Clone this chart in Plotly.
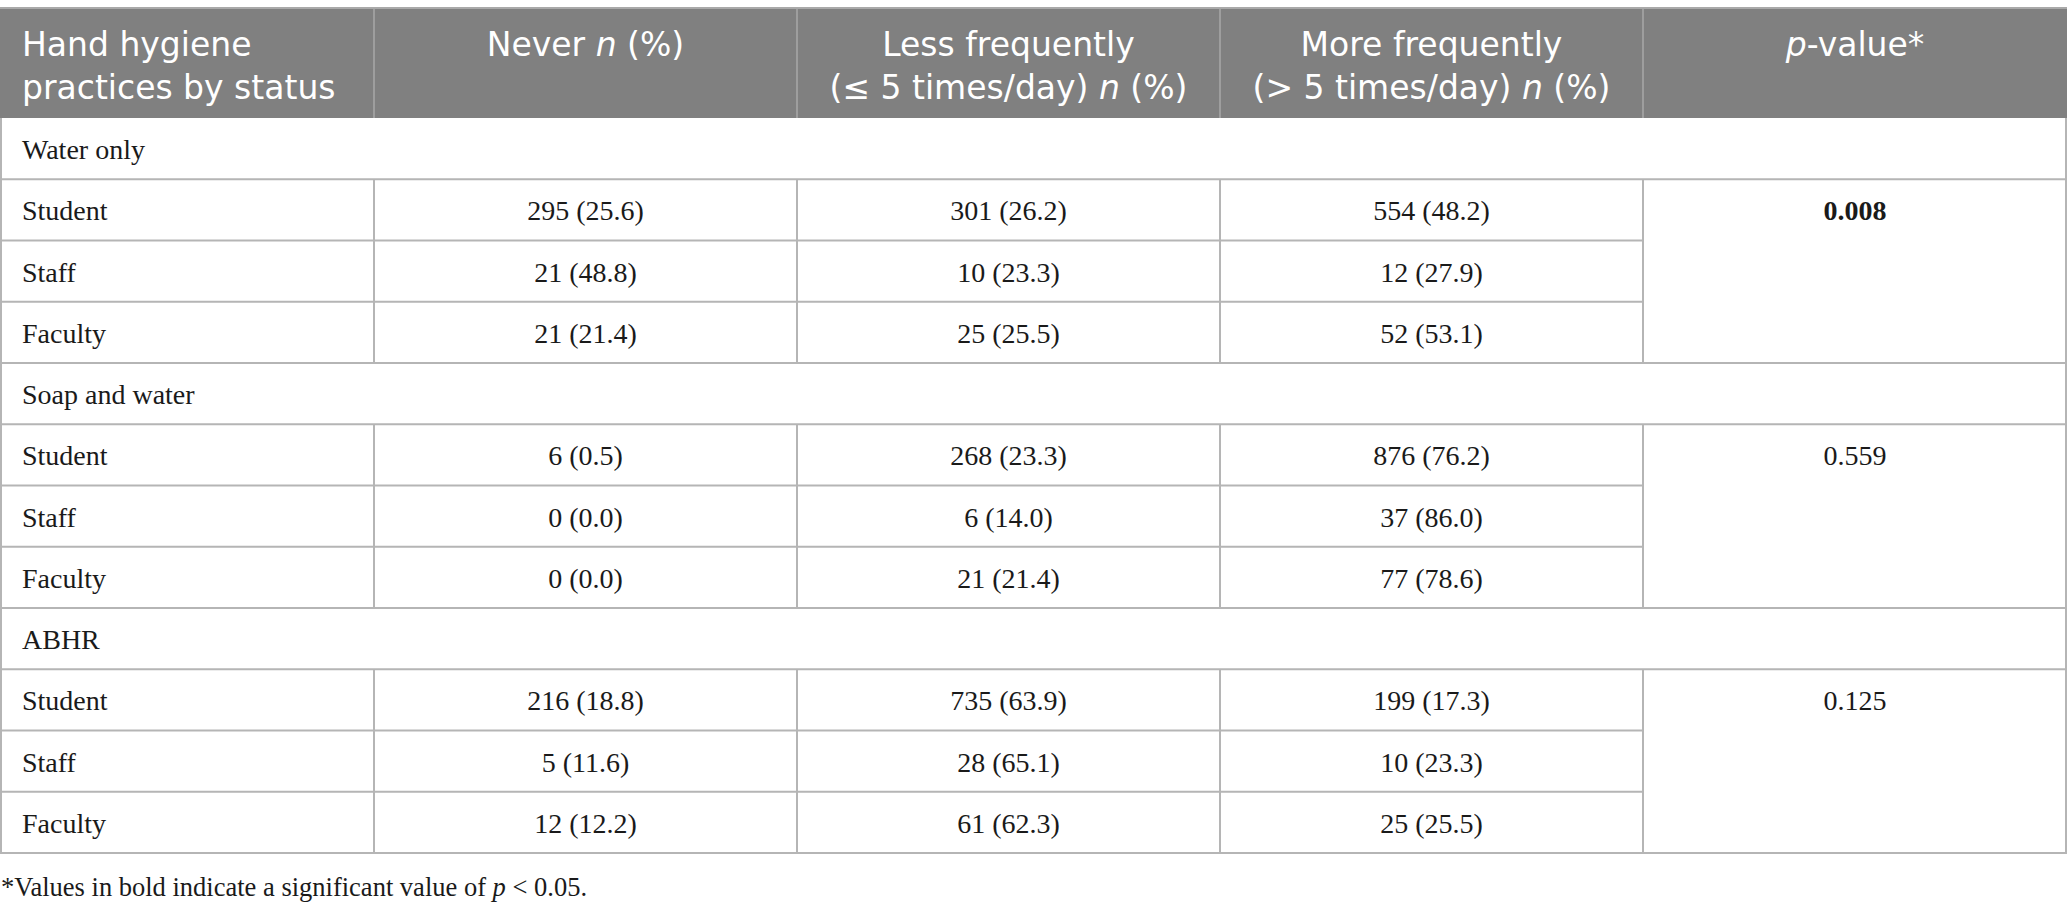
import plotly.graph_objects as go

# ---------------- data ----------------
header_lines = [
    ["Hand hygiene", "practices by status"],
    ["Never <i>n</i> (%)"],
    ["Less frequently", "(≤ 5 times/day) <i>n</i> (%)"],
    ["More frequently", "(> 5 times/day) <i>n</i> (%)"],
    ["<i>p</i>-value*"],
]
categories = ["Water only", "Soap and water", "ABHR"]
statuses = ["Student", "Staff", "Faculty"]

never_n = [[295, 21, 21], [6, 0, 0], [216, 5, 12]]
never_pct = [[25.6, 48.8, 21.4], [0.5, 0.0, 0.0], [18.8, 11.6, 12.2]]
less_n = [[301, 10, 25], [268, 6, 21], [735, 28, 61]]
less_pct = [[26.2, 23.3, 25.5], [23.3, 14.0, 21.4], [63.9, 65.1, 62.3]]
more_n = [[554, 12, 52], [876, 37, 77], [199, 10, 25]]
more_pct = [[48.2, 27.9, 53.1], [76.2, 86.0, 78.6], [17.3, 23.3, 25.5]]
p_values = [0.008, 0.559, 0.125]
alpha = 0.05
footnote = "*Values in bold indicate a significant value of <i>p</i> < 0.05."

# ---------------- layout constants ----------------
W, H = 2067, 914
col_edges = [0, 374, 797, 1220, 1643, 2067]
head_top, head_bot = 8, 118
row_h = (853 - head_bot) / 12.0
pad = 22
head_first_line_y = 48
head_font = 33
line_gap = head_font * 1.3

HEAD_BG = "#808080"
HEAD_LINE = "#a9a9a9"
GRID = "#b5b5b5"
SANS = "DejaVu Sans"
SERIF = "Liberation Serif"

fig = go.Figure()
shapes = []

# header background
shapes.append(dict(type="rect", x0=col_edges[0], x1=col_edges[-1], y0=head_top, y1=head_bot,
                   fillcolor=HEAD_BG, line=dict(width=0), layer="below"))
shapes.append(dict(type="line", x0=col_edges[0], x1=col_edges[-1], y0=head_top, y1=head_top,
                   line=dict(color=HEAD_LINE, width=2)))
for xe in col_edges[1:-1]:
    shapes.append(dict(type="line", x0=xe, x1=xe, y0=head_top, y1=head_bot,
                       line=dict(color=HEAD_LINE, width=1.5)))

# header text (one text block per column)
hx, hy, ht, hp = [], [], [], []
for ci, lines in enumerate(header_lines):
    n = len(lines)
    if ci == 0:
        hx.append(col_edges[0] + pad); hp.append("middle right")
    else:
        hx.append((col_edges[ci] + col_edges[ci + 1]) / 2); hp.append("middle center")
    hy.append(head_first_line_y + (n - 1) * line_gap / 2)
    ht.append("<br>".join(lines))
fig.add_trace(go.Scatter(x=hx, y=hy, text=ht, mode="text", textposition=hp,
                         textfont=dict(family=SANS, size=head_font, color="white"),
                         hoverinfo="skip", showlegend=False))

# body
bx, by, bt, bp = [], [], [], []
def row_top(r):
    return head_bot + r * row_h

voff = 3.5
r = 0
for gi, cat in enumerate(categories):
    yt = row_top(r)
    bx.append(col_edges[0] + pad); by.append(yt + row_h / 2 + voff); bt.append(cat); bp.append("middle right")
    shapes.append(dict(type="line", x0=col_edges[0], x1=col_edges[-1], y0=yt + row_h, y1=yt + row_h,
                       line=dict(color=GRID, width=2)))
    r += 1
    g_start = r
    for si, st in enumerate(statuses):
        yt = row_top(r)
        yc = yt + row_h / 2 + voff
        bx.append(col_edges[0] + pad); by.append(yc); bt.append(st); bp.append("middle right")
        vals = [(never_n, never_pct), (less_n, less_pct), (more_n, more_pct)]
        for k, (nn, pp) in enumerate(vals):
            bx.append((col_edges[k + 1] + col_edges[k + 2]) / 2); by.append(yc)
            bt.append(f"{nn[gi][si]} ({pp[gi][si]:.1f})"); bp.append("middle center")
        if si < len(statuses) - 1:
            shapes.append(dict(type="line", x0=col_edges[0], x1=col_edges[4], y0=yt + row_h, y1=yt + row_h,
                               line=dict(color=GRID, width=2)))
        r += 1
    pv = p_values[gi]
    ptxt = f"{pv:.3f}"
    if pv < alpha:
        ptxt = f"<b>{ptxt}</b>"
    bx.append((col_edges[4] + col_edges[5]) / 2); by.append(row_top(g_start) + row_h / 2 + voff)
    bt.append(ptxt); bp.append("middle center")
    for xe in col_edges[1:-1]:
        shapes.append(dict(type="line", x0=xe, x1=xe, y0=row_top(g_start), y1=row_top(r),
                           line=dict(color=GRID, width=2)))
    shapes.append(dict(type="line", x0=col_edges[0], x1=col_edges[-1], y0=row_top(r), y1=row_top(r),
                       line=dict(color=GRID, width=2)))

shapes.append(dict(type="line", x0=col_edges[0] + 1, x1=col_edges[0] + 1, y0=head_bot, y1=row_top(r),
                   line=dict(color=GRID, width=2)))
shapes.append(dict(type="line", x0=col_edges[-1] - 1, x1=col_edges[-1] - 1, y0=head_bot, y1=row_top(r),
                   line=dict(color=GRID, width=2)))

fig.add_trace(go.Scatter(x=bx, y=by, text=bt, mode="text", textposition=bp,
                         textfont=dict(family=SERIF, size=28, color="#1a1a1a"),
                         hoverinfo="skip", showlegend=False))

fig.add_trace(go.Scatter(x=[1], y=[889], text=[footnote], mode="text", textposition="middle right",
                         textfont=dict(family=SERIF, size=26.5, color="#1a1a1a"),
                         hoverinfo="skip", showlegend=False))

fig.update_layout(
    width=W, height=H, margin=dict(l=0, r=0, t=0, b=0),
    paper_bgcolor="white", plot_bgcolor="white",
    xaxis=dict(range=[0, W], visible=False, fixedrange=True),
    yaxis=dict(range=[H, 0], visible=False, fixedrange=True),
    shapes=shapes,
)
fig.write_html("out.html", config={"displayModeBar": False},
               post_script="document.body.style.margin='0';")
